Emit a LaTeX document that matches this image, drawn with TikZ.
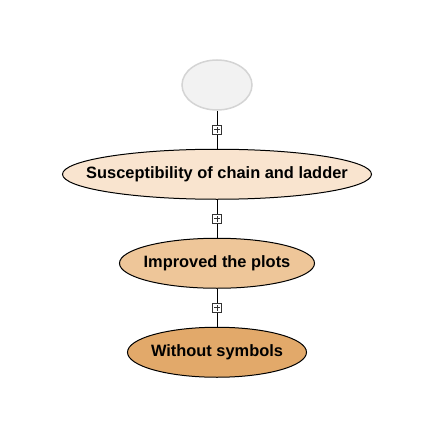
\documentclass[tikz,border=0pt]{standalone}
\usepackage{fontspec}
\setmainfont{Liberation Sans}
\usepackage{xcolor}
\usepackage{tikz}
\usetikzlibrary{positioning,shapes.geometric,backgrounds}
\definecolor{palGray}{HTML}{F2F2F2}
\definecolor{palGrayLine}{HTML}{D4D4D4}
\definecolor{palPeach}{HTML}{F9E4CF}
\definecolor{palTan}{HTML}{EEC699}
\definecolor{palOchre}{HTML}{E2A96A}
\newcommand{\ctext}[1]{\makebox[0pt]{#1}}

\begin{document}
\begin{tikzpicture}[
  font=\bfseries\fontsize{16.4}{19}\selectfont,
  oval/.style={ellipse, draw, inner sep=0pt, minimum height=50pt, line width=1pt},
  root/.style={oval, fill=palGray, draw=palGrayLine, line width=1.5pt, minimum width=70pt},
  lvlone/.style={oval, fill=palPeach, minimum width=309pt},
  lvltwo/.style={oval, fill=palTan, minimum width=195pt},
  lvlthree/.style={oval, fill=palOchre, minimum width=179pt},
  link/.style={line width=0.8pt},
  toggle/.style={draw=black!80, fill=white, rectangle, inner sep=0pt, minimum size=9pt, line width=0.8pt,
    path picture={\draw[line width=0.6pt] ([xshift=-2.8pt]path picture bounding box.center) -- ([xshift=2.8pt]path picture bounding box.center);
      \draw[line width=0.6pt] ([yshift=-2.8pt]path picture bounding box.center) -- ([yshift=2.8pt]path picture bounding box.center);}},
]
\useasboundingbox (0,0) rectangle (436pt,-436pt);
\node[root] (top) at (217pt,-85pt) {};
\node[lvlone, below=38pt of top] (chain) {\ctext{Susceptibility of chain and ladder}};
\node[lvltwo, below=38pt of chain] (plots) {\ctext{Improved the plots}};
\node[lvlthree, below=38pt of plots] (nosym) {\ctext{Without symbols}};

\begin{scope}[on background layer]
\draw[link] (top.south) -- node[toggle] (t1) {} (chain.north);
\draw[link] (chain.south) -- node[toggle] (t2) {} (plots.north);
\draw[link] (plots.south) -- node[toggle] (t3) {} (nosym.north);
\end{scope}
\end{tikzpicture}
\end{document}
